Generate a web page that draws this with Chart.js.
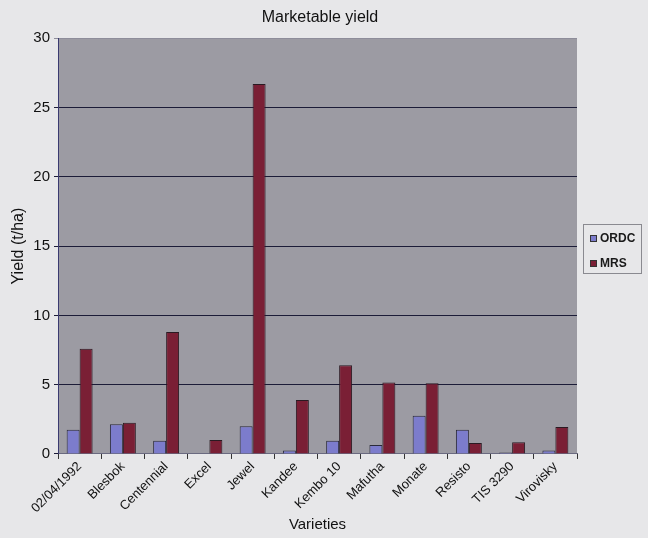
<!DOCTYPE html>
<html>
<head>
<meta charset="utf-8">
<script src="https://cdn.jsdelivr.net/npm/chart.js@4.4.1/dist/chart.umd.min.js"></script>
<style>
  html, body { margin: 0; padding: 0; background: #e7e7e9; }
  #wrap { position: relative; width: 648px; height: 538px; }
  canvas { position: absolute; left: 0; top: 0; }
  #legend {
    position: absolute; left: 583px; top: 224px; width: 59px; height: 50px;
    border: 1px solid #8a8a90; box-sizing: border-box;
    font-family: "Liberation Sans", Arial, sans-serif; font-weight: bold; font-size: 12px; color: #1a1a1a;
  }
  .item { position: absolute; left: 6px; display: flex; align-items: center; }
  .sw { width: 7px; height: 7px; border: 1px solid #333; margin-right: 3px; box-sizing: border-box; }
</style>
</head>
<body>
<div id="wrap">
  <canvas id="c" width="648" height="538"></canvas>
  <div id="legend"></div>
</div>
<script>
// Marketable yield (t/ha) per potato variety at two sites
const varieties = ['02/04/1992', 'Blesbok', 'Centennial', 'Excel', 'Jewel', 'Kandee',
                   'Kembo 10', 'Mafutha', 'Monate', 'Resisto', 'TIS 3290', 'Virovisky'];
const ordc = [1.75, 2.15, 0.95, 0.0, 2.0, 0.25, 0.95, 0.65, 2.75, 1.75, 0.1, 0.25];
const mrs  = [7.6, 2.25, 8.8, 1.0, 26.7, 3.9, 6.4, 5.15, 5.1, 0.8, 0.85, 1.95];
const yTicks = [0, 5, 10, 15, 20, 25, 30];

const seriesNames = ['ORDC', 'MRS'];
const seriesColors = ['#7c7ccc', '#7a1f35'];

const FONT = '"Liberation Sans", Arial, sans-serif';

// Grey plot-area fill behind the bars
const plotBg = {
  id: 'plotBg',
  beforeDraw(chart) {
    const a = chart.chartArea, ctx = chart.ctx;
    ctx.save();
    ctx.fillStyle = '#9c9ba3';
    ctx.fillRect(a.left, a.top, a.right - a.left, a.bottom - a.top);
    ctx.restore();
  }
};

new Chart(document.getElementById('c'), {
  type: 'bar',
  data: {
    labels: varieties,
    datasets: [
      { label: seriesNames[0], data: ordc, backgroundColor: seriesColors[0], borderColor: '#2a2a3a', borderWidth: 1 },
      { label: seriesNames[1], data: mrs,  backgroundColor: seriesColors[1], borderColor: '#2a1a22', borderWidth: 1 }
    ]
  },
  options: {
    responsive: false,
    animation: false,
    devicePixelRatio: 1,
    layout: { padding: { left: 0, right: 8, top: 0, bottom: 4 } },
    datasets: { bar: { categoryPercentage: 0.6, barPercentage: 1.0 } },
    plugins: {
      legend: { display: false },
      tooltip: { enabled: false },
      title: {
        display: true, text: 'Marketable yield', color: '#111',
        font: { family: FONT, size: 16, weight: 'normal' },
        padding: { top: 8, bottom: 11 }
      }
    },
    scales: {
      x: {
        grid: { offset: true, drawOnChartArea: false, drawTicks: true, tickLength: 5, color: '#333' },
        border: { display: true, color: '#6a6a80', width: 1 },
        ticks: { color: '#111', font: { family: FONT, size: 13 }, minRotation: 45, maxRotation: 45, autoSkip: false, padding: 0 },
        title: { display: true, text: 'Varieties', color: '#111', font: { family: FONT, size: 15 }, padding: { top: 0, bottom: 0 } }
      },
      y: {
        min: 0, max: 30,
        afterBuildTicks(scale) { scale.ticks = yTicks.map(v => ({ value: v })); },
        afterFit(scale) { scale.width = 58; },
        grid: {
          // the top edge of the plot stays a soft line, inner lines are dark
          color: ctx => (ctx.tick && ctx.tick.value === 30) ? '#8e8d9a' : '#1c1c38',
          lineWidth: 1, drawTicks: true, tickLength: 4
        },
        border: { display: true, color: '#3a3a70', width: 1 },
        ticks: { color: '#111', font: { family: FONT, size: 15 }, padding: 4 },
        title: { display: true, text: 'Yield (t/ha)', color: '#111', font: { family: FONT, size: 16 }, padding: { top: 9, bottom: 0 } }
      },
      // empty strip on the right that leaves room for the legend box
      side: {
        type: 'linear', position: 'right', display: true,
        afterFit(scale) { scale.width = 63; },
        grid: { display: false }, border: { display: false }, ticks: { display: false }
      }
    }
  },
  plugins: [plotBg]
});

// Legend box
const legend = document.getElementById('legend');
seriesNames.forEach((name, i) => {
  const item = document.createElement('div');
  item.className = 'item';
  item.style.top = (i === 0 ? 6 : 31) + 'px';
  const sw = document.createElement('span');
  sw.className = 'sw';
  sw.style.background = seriesColors[i];
  const tx = document.createElement('span');
  tx.textContent = name;
  item.appendChild(sw); item.appendChild(tx);
  legend.appendChild(item);
});
</script>
</body>
</html>
